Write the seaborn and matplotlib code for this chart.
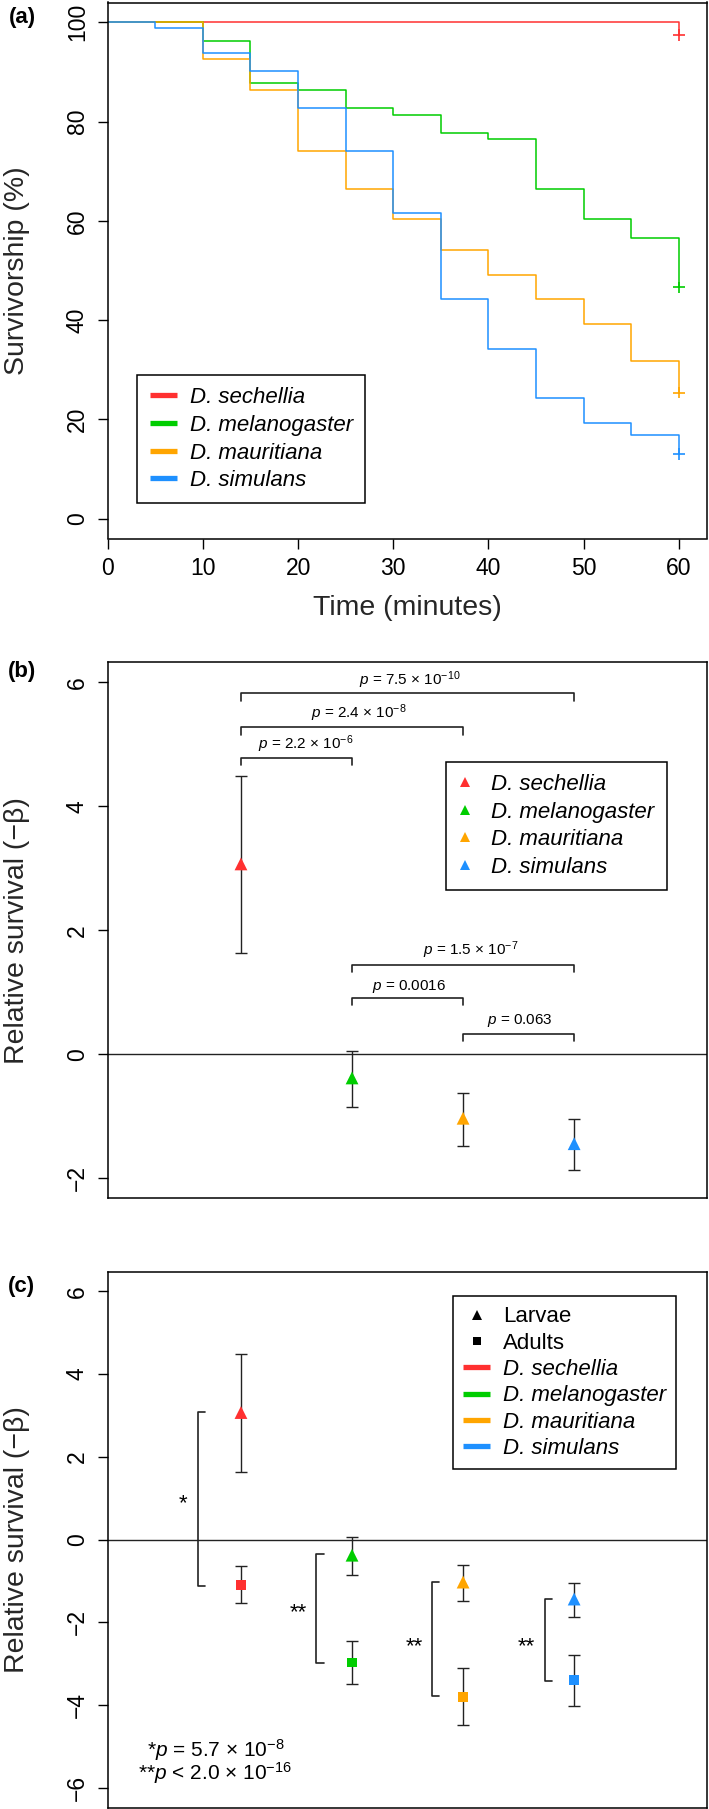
import numpy as np
import pandas as pd
import matplotlib
matplotlib.use("Agg")
import matplotlib.pyplot as plt
import seaborn as sns
from matplotlib.lines import Line2D
from matplotlib import transforms

# ---------------- data ----------------
species = ["D. sechellia", "D. melanogaster", "D. mauritiana", "D. simulans"]
colors = ["#FF3030", "#00CD00", "#FFA500", "#1E90FF"]

# (a) Kaplan-Meier survivorship (%) at each 5-min step
times = [0, 5, 10, 15, 20, 25, 30, 35, 40, 45, 50, 55, 60]
surv_sechellia = [100, 100, 100, 100, 100, 100, 100, 100, 100, 100, 100, 100, 97.5]
surv_melanogaster = [100, 100, 96.3, 87.7, 86.4, 82.7, 81.4, 77.7, 76.4, 66.5, 60.3, 56.6, 46.6]
surv_mauritiana = [100, 100, 92.6, 86.4, 74.0, 66.5, 60.3, 54.1, 49.1, 44.2, 39.2, 31.7, 25.4]
surv_simulans = [100, 98.8, 93.8, 90.1, 82.7, 74.0, 61.5, 44.2, 34.2, 24.3, 19.2, 16.8, 13.0]

# (b)/(c) relative survival (-beta) with intervals
larvae_beta = [3.07, -0.38, -1.03, -1.44]
larvae_lo = [1.63, -0.85, -1.48, -1.87]
larvae_hi = [4.48, 0.06, -0.62, -1.04]
adult_beta = [-1.10, -2.97, -3.81, -3.40]
adult_lo = [-1.53, -3.49, -4.49, -4.03]
adult_hi = [-0.63, -2.45, -3.11, -2.79]

# (b) pairwise comparisons
pairs_b = [(1, 2), (1, 3), (1, 4), (2, 4), (2, 3), (3, 4)]
bracket_heights_b = [4.78, 5.27, 5.82, 1.44, 0.91, 0.33]
pvals_b = [r"$p$ = 2.2 × 10$^{-6}$", r"$p$ = 2.4 × 10$^{-8}$", r"$p$ = 7.5 × 10$^{-10}$",
           r"$p$ = 1.5 × 10$^{-7}$", r"$p$ = 0.0016", r"$p$ = 0.063"]
pval_pos_b = [(1.58, 5.00), (2.06, 5.50), (2.52, 6.03), (3.07, 1.68), (2.51, 1.10), (3.51, 0.55)]

# (c) larvae vs adults comparisons
bracket_x_c = [0.61, 1.68, 2.72, 3.74]
bracket_top_c = [3.09, -0.34, -1.02, -1.44]
bracket_bot_c = [-1.13, -2.99, -3.78, -3.42]
stars_c = ["*", "**", "**", "**"]
star_pos_c = [(0.48, 1.04), (1.52, -1.60), (2.56, -2.41), (3.57, -2.41)]
notes_c = [r"*$p$ = 5.7 × 10$^{-8}$", r"**$p$ < 2.0 × 10$^{-16}$"]
notes_pos_c = [(0.77, -5.08), (0.77, -5.64)]

# ---------------- style ----------------
sns.set_style("ticks")
plt.rcParams["font.family"] = ["Liberation Sans", "DejaVu Sans"]
plt.rcParams["mathtext.fontset"] = "custom"
plt.rcParams["mathtext.rm"] = "Liberation Sans"
plt.rcParams["mathtext.it"] = "Liberation Sans:italic"
plt.rcParams["mathtext.bf"] = "Liberation Sans:bold"
plt.rcParams["axes.edgecolor"] = "black"
plt.rcParams["axes.linewidth"] = 1.1
plt.rcParams["text.color"] = "black"

W, H = 709, 1809
fig = plt.figure(figsize=(W / 100, H / 100), dpi=100)


def rect(top, bottom, left=107.7, right=707.4):
    return [left / W, 1 - bottom / H, (right - left) / W, (bottom - top) / H]


axA = fig.add_axes(rect(2.5, 538.5))
axB = fig.add_axes(rect(662.3, 1198.3))
axC = fig.add_axes(rect(1271.5, 1807.5))

TICK = 16.5
LEG = 16


def style_axes(ax):
    for s in ax.spines.values():
        s.set_visible(True)
        s.set_color("black")
        s.set_linewidth(1.1)
    ax.tick_params(axis="both", length=7.5, width=1.0, labelsize=TICK, pad=6,
                   color="black", labelcolor="black")
    ax.tick_params(axis="y", labelrotation=90)
    plt.setp(ax.get_yticklabels(), va="center")


def frame(leg):
    leg.get_frame().set_edgecolor("black")
    leg.get_frame().set_linewidth(1.1)


# ---------------- (a) ----------------
surv_all = [surv_sechellia, surv_melanogaster, surv_mauritiana, surv_simulans]
dfA = pd.DataFrame({
    "time": np.tile(times, len(species)),
    "surv": np.concatenate(surv_all),
    "species": np.repeat(species, len(times)),
})
pal = dict(zip(species, colors))
sns.lineplot(data=dfA, x="time", y="surv", hue="species", palette=pal,
             drawstyle="steps-post", estimator=None, legend=False,
             linewidth=1.1, ax=axA)
dfEnd = dfA[dfA["time"] == times[-1]]
sns.scatterplot(data=dfEnd, x="time", y="surv", hue="species", palette=pal,
                marker="+", s=70, linewidth=1.2, legend=False, ax=axA, zorder=4)
axA.set_xlim(0, 63)
axA.set_ylim(-4, 104)
axA.set_xticks(range(0, 61, 10))
axA.set_yticks(range(0, 101, 20))
style_axes(axA)
axA.set_xlabel("Time (minutes)", fontsize=20.5, va="center")
axA.xaxis.set_label_coords(0.5, -0.13)
axA.set_ylabel("Survivorship (%)", fontsize=20.5, va="center")
axA.yaxis.set_label_coords(-0.152, 0.5)

handlesA = [Line2D([0], [0], color=c, lw=3.8, solid_capstyle="butt") for c in colors]
legA = axA.legend(handles=handlesA, labels=species, loc="upper left",
                  bbox_to_anchor=(137.3 / W, 1 - 375 / H), bbox_transform=fig.transFigure,
                  borderaxespad=0, frameon=True, fancybox=False, framealpha=1,
                  prop={"style": "italic", "size": LEG}, handlelength=1.25,
                  handletextpad=0.55, labelspacing=0.3, borderpad=0.55)
frame(legA)

# ---------------- (b) ----------------
pos = np.arange(1, len(species) + 1)
dfL = pd.DataFrame({"pos": pos, "beta": larvae_beta, "lo": larvae_lo,
                    "hi": larvae_hi, "species": species})
dfAd = pd.DataFrame({"pos": pos, "beta": adult_beta, "lo": adult_lo,
                     "hi": adult_hi, "species": species})


def draw_points(ax, df, marker, size):
    ax.errorbar(df["pos"], df["beta"], yerr=[df["beta"] - df["lo"], df["hi"] - df["beta"]],
                fmt="none", ecolor="#222222", elinewidth=1.0, capsize=4.2, capthick=1.0,
                zorder=2)
    sns.scatterplot(data=df, x="pos", y="beta", hue="species", palette=pal,
                    marker=marker, s=size, linewidth=0, legend=False, ax=ax, zorder=3)


axB.axhline(0, color="#222222", lw=1.0, zorder=1)
draw_points(axB, dfL, "^", 85)
for (i, j), h, lab, (tx, ty) in zip(pairs_b, bracket_heights_b, pvals_b, pval_pos_b):
    axB.plot([i, i, j, j], [h - 0.12, h, h, h - 0.12], color="#222222", lw=1.2)
    axB.text(tx, ty, lab, fontsize=11, ha="center", va="center")
axB.set_xlim(-0.2, 5.2)
axB.set_ylim(-2.32, 6.32)
axB.set_xticks([])
axB.set_yticks(range(-2, 7, 2))
axB.set_xlabel("")
style_axes(axB)
axB.set_ylabel("Relative survival (−β)", fontsize=20.5, va="center")
axB.yaxis.set_label_coords(-0.152, 0.5)

handlesB = [Line2D([], [], marker="^", ls="none", color=c, markersize=6.5,
                   markeredgewidth=0) for c in colors]
legB = axB.legend(handles=handlesB, labels=species, loc="upper left",
                  bbox_to_anchor=(445.9 / W, 1 - 761.7 / H), bbox_transform=fig.transFigure,
                  borderaxespad=0, frameon=True, fancybox=False, framealpha=1,
                  prop={"style": "italic", "size": LEG}, handlelength=0.6,
                  handletextpad=0.9, labelspacing=0.3, borderpad=0.55)
frame(legB)

# ---------------- (c) ----------------
axC.axhline(0, color="#222222", lw=1.0, zorder=1)
draw_points(axC, dfL, "^", 85)
draw_points(axC, dfAd, "s", 48)
for bx, bt, bb in zip(bracket_x_c, bracket_top_c, bracket_bot_c):
    axC.plot([bx + 0.065, bx, bx, bx + 0.065], [bt, bt, bb, bb], color="#222222", lw=1.2)
star_tr = transforms.offset_copy(axC.transData, fig=fig, y=-0.575 * 16, units="points")
for s, (sx, sy) in zip(stars_c, star_pos_c):
    axC.text(sx, sy, s, fontsize=16, ha="center", va="baseline", transform=star_tr)
for s, (nx, ny) in zip(notes_c, notes_pos_c):
    axC.text(nx, ny, s, fontsize=15, ha="center", va="center")
axC.set_xlim(-0.2, 5.2)
axC.set_ylim(-6.48, 6.48)
axC.set_xticks([])
axC.set_yticks(range(-6, 7, 2))
axC.set_xlabel("")
style_axes(axC)
axC.set_ylabel("Relative survival (−β)", fontsize=20.5, va="center")
axC.yaxis.set_label_coords(-0.152, 0.5)

handlesC = [Line2D([], [], marker="^", ls="none", color="black", markersize=7.5, markeredgewidth=0),
            Line2D([], [], marker="s", ls="none", color="black", markersize=5.5, markeredgewidth=0)]
handlesC += [Line2D([0], [0], color=c, lw=3.8, solid_capstyle="butt") for c in colors]
legC = axC.legend(handles=handlesC, labels=["Larvae", "Adults"] + species, loc="upper left",
                  bbox_to_anchor=(452.7 / W, 1 - 1296.3 / H), bbox_transform=fig.transFigure,
                  borderaxespad=0, frameon=True, fancybox=False, framealpha=1,
                  prop={"size": LEG}, handlelength=1.25,
                  handletextpad=0.55, labelspacing=0.24, borderpad=0.45)
for t in legC.get_texts()[2:]:
    t.set_style("italic")
frame(legC)

# panel labels
for lab, (lx, ly) in zip(["(a)", "(b)", "(c)"], [(22, 17.5), (22, 671.7), (21, 1286.3)]):
    fig.text(lx / W, 1 - ly / H, lab, fontsize=16, fontweight="bold", ha="center", va="center")

fig.savefig("out.png", dpi=100)
